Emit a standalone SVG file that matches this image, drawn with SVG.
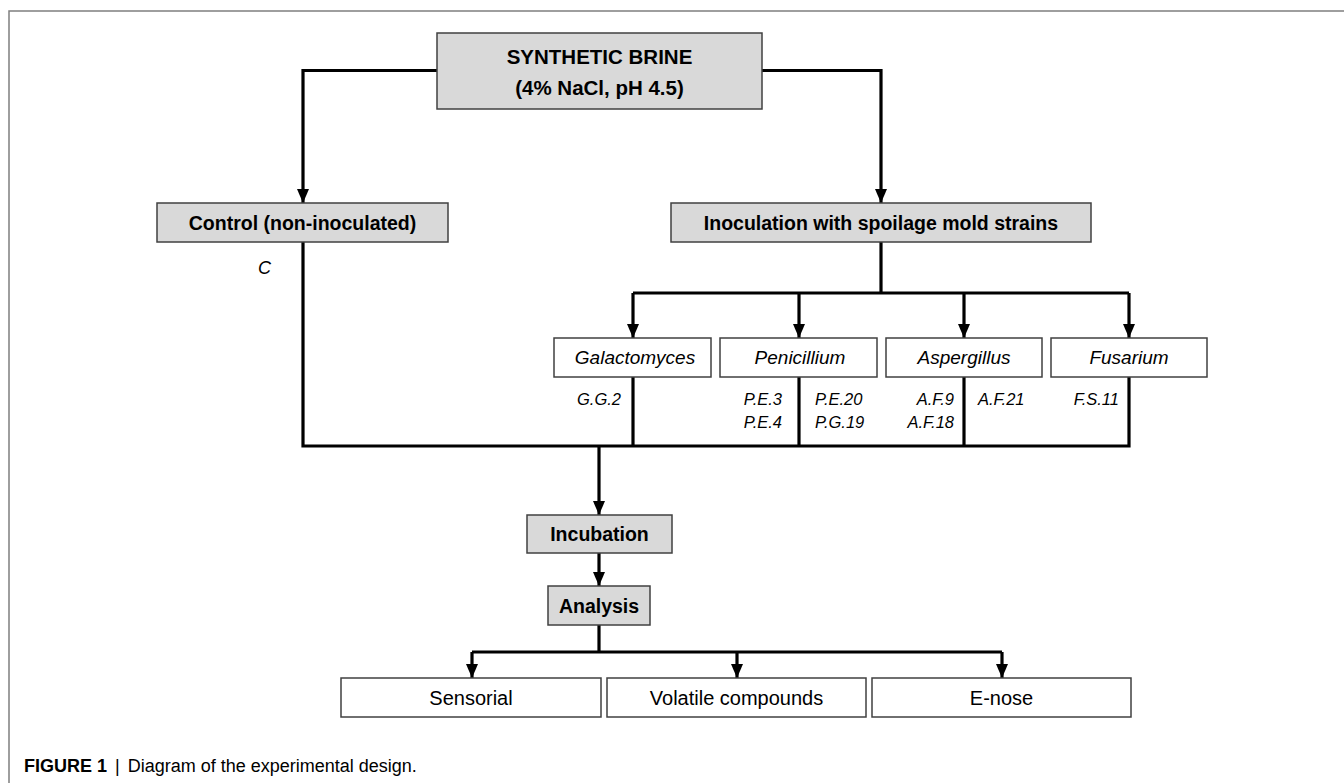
<svg xmlns="http://www.w3.org/2000/svg" width="1344" height="783" viewBox="0 0 1344 783">
<defs>
<marker id="arr" markerUnits="userSpaceOnUse" markerWidth="14" markerHeight="12" refX="14" refY="6" orient="auto" viewBox="0 0 14 12">
<path d="M0,0 L14,6 L0,12 Z" fill="#000"/>
</marker>
<style>
.frame{fill:none;stroke:#7f7f7f;stroke-width:1.5}
.gbox{fill:#d9d9d9;stroke:#404040;stroke-width:1.5}
.wbox{fill:#fff;stroke:#404040;stroke-width:1.5}
.ln{fill:none;stroke:#000;stroke-width:3.2;stroke-linejoin:miter;stroke-linecap:butt}
.ar{marker-end:url(#arr)}
.b{font-family:"Liberation Sans",Arial,sans-serif;font-weight:bold;font-size:19.5px;fill:#000;text-anchor:middle}
.r{font-family:"Liberation Sans",Arial,sans-serif;font-size:20px;fill:#000;text-anchor:middle}
.g{font-family:"Liberation Sans",Arial,sans-serif;font-style:italic;font-size:19px;fill:#000;text-anchor:middle}
.s{font-family:"Liberation Sans",Arial,sans-serif;font-style:italic;font-size:16.5px;fill:#000}
.cap{font-family:"Liberation Sans",Arial,sans-serif;font-size:18px;fill:#000}
</style>
</defs>
<rect width="1344" height="783" fill="#fff"/>
<path class="frame" d="M9,783 L9,11 L1344,11"/>

<g id="connectors">
<path class="ln ar" d="M437,70.5 L303,70.5 L303,203"/>
<path class="ln ar" d="M762,70.5 L881,70.5 L881,203"/>
<path class="ln" d="M881,242 L881,293"/>
<path class="ln" d="M633,293 L1129,293"/>
<path class="ln ar" d="M633,293 L633,338"/>
<path class="ln ar" d="M799,293 L799,338"/>
<path class="ln ar" d="M964,293 L964,338"/>
<path class="ln ar" d="M1129,293 L1129,338"/>
<path class="ln" d="M303,242 L303,446 L1129,446 L1129,377"/>
<path class="ln" d="M633,377 L633,446"/>
<path class="ln" d="M799,377 L799,446"/>
<path class="ln" d="M964,377 L964,446"/>
<path class="ln ar" d="M599,446 L599,515"/>
<path class="ln ar" d="M599,553 L599,586"/>
<path class="ln" d="M599,625 L599,652"/>
<path class="ln" d="M472,652 L1002,652"/>
<path class="ln ar" d="M472,652 L472,678"/>
<path class="ln ar" d="M737,652 L737,678"/>
<path class="ln ar" d="M1002,652 L1002,678"/>
</g>

<g id="brine">
<rect class="gbox" x="437" y="33" width="325" height="76"/>
<text class="b" x="599.5" y="64" style="font-size:20.5px">SYNTHETIC BRINE</text>
<text class="b" x="599.5" y="95" style="font-size:20.5px">(4% NaCl, pH 4.5)</text>
</g>

<g id="control">
<rect class="gbox" x="157" y="203" width="291" height="39"/>
<text class="b" x="302.5" y="230">Control (non-inoculated)</text>
<text class="s" x="258" y="274" style="font-size:18px">C</text>
</g>

<g id="inoculation">
<rect class="gbox" x="671" y="203" width="420" height="39"/>
<text class="b" x="881" y="230">Inoculation with spoilage mold strains</text>
</g>

<g id="galactomyces">
<rect class="wbox" x="554" y="338" width="157" height="39"/>
<text class="g" x="635" y="364">Galactomyces</text>
<text class="s" x="621" y="405" text-anchor="end">G.G.2</text>
</g>

<g id="penicillium">
<rect class="wbox" x="720" y="338" width="157" height="39"/>
<text class="g" x="800" y="364">Penicillium</text>
<text class="s" x="782" y="405" text-anchor="end">P.E.3</text>
<text class="s" x="782" y="428" text-anchor="end">P.E.4</text>
<text class="s" x="815" y="405">P.E.20</text>
<text class="s" x="815" y="428">P.G.19</text>
</g>

<g id="aspergillus">
<rect class="wbox" x="886" y="338" width="156" height="39"/>
<text class="g" x="964" y="364">Aspergillus</text>
<text class="s" x="954" y="405" text-anchor="end">A.F.9</text>
<text class="s" x="954" y="428" text-anchor="end">A.F.18</text>
<text class="s" x="978" y="405">A.F.21</text>
</g>

<g id="fusarium">
<rect class="wbox" x="1051" y="338" width="156" height="39"/>
<text class="g" x="1129" y="364">Fusarium</text>
<text class="s" x="1119" y="405" text-anchor="end">F.S.11</text>
</g>

<g id="incubation">
<rect class="gbox" x="527" y="515" width="145" height="38"/>
<text class="b" x="599.5" y="541">Incubation</text>
</g>

<g id="analysis">
<rect class="gbox" x="548" y="586" width="102" height="39"/>
<text class="b" x="599" y="612.5">Analysis</text>
</g>

<g id="sensorial">
<rect class="wbox" x="341" y="678" width="260" height="39"/>
<text class="r" x="471" y="705">Sensorial</text>
</g>

<g id="volatile">
<rect class="wbox" x="607" y="678" width="259" height="39"/>
<text class="r" x="736.5" y="705">Volatile compounds</text>
</g>

<g id="enose">
<rect class="wbox" x="872" y="678" width="259" height="39"/>
<text class="r" x="1001.5" y="705">E-nose</text>
</g>

<text class="cap" x="24" y="772"><tspan font-weight="bold">FIGURE 1</tspan><tspan dx="8">|</tspan><tspan dx="8">Diagram of the experimental design.</tspan></text>
</svg>
